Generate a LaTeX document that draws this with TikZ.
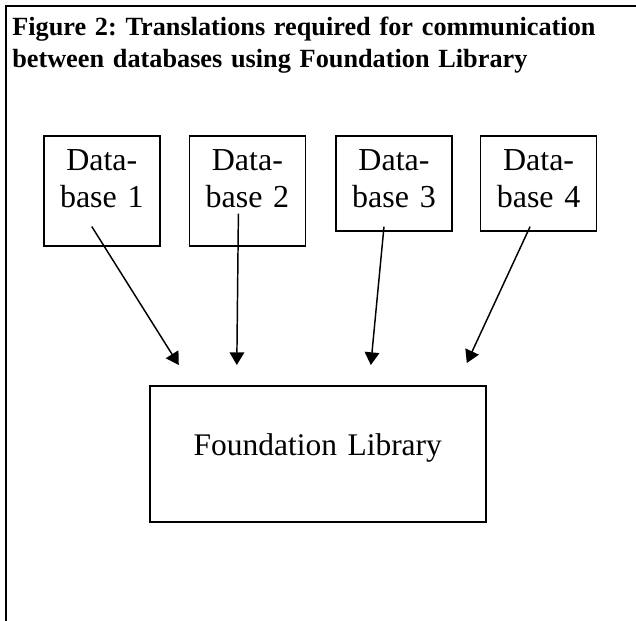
\documentclass[tikz,border=0pt]{standalone}
\usepackage{fontspec}
\setmainfont{Liberation Serif}
\usetikzlibrary{arrows.meta, positioning, calc}
\frenchspacing

\begin{document}
\begin{tikzpicture}[
  x=0.75pt, y=-0.75pt,
  dbbox/.style  = {draw, line width=1.2pt, inner sep=0pt, text width=87pt, align=center,
                   text height=26.25pt, font=\fontsize{24}{27.8}\selectfont},
  libbox/.style = {draw, line width=1.2pt, inner sep=0pt, text width=252pt, align=center,
                   text height=52.5pt, text depth=49.5pt, font=\fontsize{23.6}{27.8}\selectfont},
  arrow/.style  = {line width=1.1pt, -{Triangle[length=9.5pt, width=11pt]}},
  frame/.style  = {line width=1.8pt}
]
  \useasboundingbox (0,0) rectangle (636,621);

  % frame (top and left edge only)
  \draw[frame] (636,6) -- (6,6) -- (6,621);

  % title
  \node[anchor=base west, text width=460pt, align=left, inner sep=0pt,
        font=\bfseries\fontsize{19.7}{24}\selectfont] (title) at (12,36)
    {Figure 2: Translations required for communication\\
     between databases using Foundation Library};

  % the four databases
  \node[dbbox, text depth=56.25pt, anchor=north west] (db1) at (43,135) {Data-\\base 1};
  \node[dbbox, text depth=56.25pt, right=21pt of db1.north east, anchor=north west] (db2) {Data-\\base 2};
  \node[dbbox, text depth=45pt, right=21.75pt of db2.north east, anchor=north west] (db3) {Data-\\base 3};
  \node[dbbox, text depth=45pt, right=20.25pt of db3.north east, anchor=north west] (db4) {Data-\\base 4};

  % Foundation Library
  \node[libbox, anchor=north west] (lib) at (149,385) {Foundation Library};

  % arrow ends
  \coordinate (out1) at ($(db1.south)+(-10,-20)$);
  \coordinate (out2) at ($(db2.south)+(-9,-33)$);
  \coordinate (out3) at ($(db3.south)+(-10,-5)$);
  \coordinate (out4) at ($(db4.south)+(-8.5,-5)$);
  \coordinate (in1) at ($(lib.north)+(-139,-20)$);
  \coordinate (in2) at ($(lib.north)+(-81,-20)$);
  \coordinate (in3) at ($(lib.north)+(53,-20)$);
  \coordinate (in4) at ($(lib.north)+(149,-22)$);

  % translations
  \draw[arrow] (out1) -- (in1);
  \draw[arrow] (out2) -- (in2);
  \draw[arrow] (out3) -- (in3);
  \draw[arrow] (out4) -- (in4);

\end{tikzpicture}
\end{document}
